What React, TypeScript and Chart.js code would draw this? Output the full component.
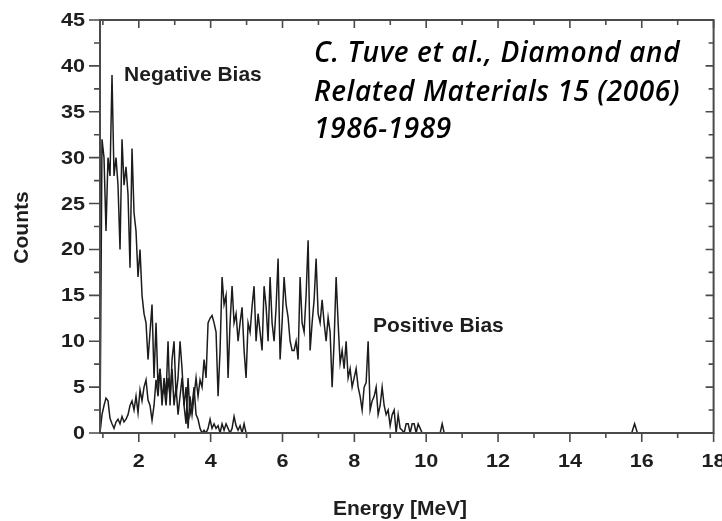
import { useEffect, useRef } from "react";
import { Chart, registerables } from "chart.js";

Chart.register(...registerables);

// Histogram binning (MeV)
const BIN_START = 0.92;
const BIN_WIDTH = 0.0557;

// Counts per bin, negative bias
const negativeBiasCounts = [
  0, 32, 30, 22, 30, 28, 39, 28, 30, 27,
  20, 32, 27, 29, 26, 18, 31, 24, 22, 17,
  20, 15, 13, 12, 8, 11, 14, 6, 12, 5,
  7, 3, 6, 4, 10, 3, 8, 10, 4, 6,
  10, 7, 3, 1, 6, 2, 3, 5, 2, 1.5,
  0.5, 0, 0.3, 0, 0.5, 1.5, 0.5, 1, 0.5, 0.8,
  0, 1, 0.3, 1, 0.5, 0, 0.5, 1.8, 0.8, 0.3,
  0.8, 0, 1, 0,
];

// Counts per bin, positive bias
const positiveBiasCounts = [
  0, 2, 3, 3.8, 3.5, 1.6, 1, 0.5, 1.2, 1.5,
  1, 1.8, 1.2, 1.5, 2, 3, 3.5, 2.5, 4, 2.2,
  4.7, 3.5, 5, 5.8, 3.6, 3, 1.4, 3, 5.8, 4,
  7, 4, 5, 3, 6, 4, 7, 3, 5, 2,
  4, 6, 3, 5, 0.5, 4, 2, 4, 6, 4,
  5.8, 5, 8, 6, 12, 12.5, 12.8, 12, 11, 4,
  9, 17, 14, 15, 6, 12, 16, 12, 13, 10,
  12, 13.7, 9, 6, 12, 11, 13.8, 16, 10, 13,
  11, 9, 16, 13.8, 10, 17, 12, 10, 13.7, 19,
  8, 12, 17, 14, 12.6, 10, 9, 9, 10, 8,
  17, 12, 11, 15, 21, 9, 12, 14.5, 19, 13,
  12, 14.5, 12, 10, 12.6, 11, 5, 10, 17, 12,
  7.6, 9, 7, 10, 6, 7, 5, 6, 7, 5,
  4, 2.5, 5, 5.5, 10, 2.5, 3.5, 4, 5, 2,
  3, 5, 3, 2, 2.5, 0.8, 2, 2.5, 0, 2,
  0.5, 0.3, 0, 1, 1, 0, 1, 1, 0, 1,
  0.5, 0, 0, 0, 0, 0, 0, 0, 0, 0,
  0, 1, 0,
];

// Isolated high-energy event, positive bias
const positiveTailEnergy = [15.72, 15.8, 15.88];
const positiveTailCounts = [0, 1, 0];

const xTickValues = [2, 4, 6, 8, 10, 12, 14, 16, 18];
const xMinorValues = [1, 3, 5, 7, 9, 11, 13, 15, 17];
const yTickValues = [0, 5, 10, 15, 20, 25, 30, 35, 40, 45];
const yMinorValues = [2.5, 7.5, 12.5, 17.5, 22.5, 27.5, 32.5, 37.5, 42.5];

const xTitle = "Energy [MeV]";
const yTitle = "Counts";
const negativeLabel = "Negative Bias";
const positiveLabel = "Positive Bias";
const citationLines = [
  "C. Tuve et al., Diamond and",
  "Related Materials 15 (2006)",
  "1986-1989",
];

const AXIS_COLOR = "#4a4a4a";
const TEXT_COLOR = "#1e1e1e";
const TRACE_COLOR = "#1c1c1c";
const SANS = '"Liberation Sans", Arial, sans-serif';

const binned = (counts: number[]) =>
  counts.map((c, i) => ({ x: BIN_START + i * BIN_WIDTH, y: c }));

const framePlugin = {
  id: "frame",
  afterDatasetsDraw(chart: any) {
    const { ctx, chartArea: a, scales } = chart;
    const xs = scales.x;
    const ys = scales.y;
    ctx.save();

    // Box
    ctx.strokeStyle = AXIS_COLOR;
    ctx.lineWidth = 2;
    ctx.strokeRect(a.left, a.top, a.right - a.left, a.bottom - a.top);

    // Tick marks: outward on bottom/left, inward on top/right
    ctx.lineWidth = 1.6;
    ctx.beginPath();
    for (const v of xTickValues) {
      const px = xs.getPixelForValue(v);
      ctx.moveTo(px, a.bottom);
      ctx.lineTo(px, a.bottom + 9);
      ctx.moveTo(px, a.top);
      ctx.lineTo(px, a.top + 8);
    }
    for (const v of xMinorValues) {
      const px = xs.getPixelForValue(v);
      ctx.moveTo(px, a.bottom);
      ctx.lineTo(px, a.bottom + 5);
      ctx.moveTo(px, a.top);
      ctx.lineTo(px, a.top + 5);
    }
    for (const v of yTickValues) {
      const py = ys.getPixelForValue(v);
      ctx.moveTo(a.left - 11, py);
      ctx.lineTo(a.left, py);
      ctx.moveTo(a.right, py);
      ctx.lineTo(a.right - 8, py);
    }
    for (const v of yMinorValues) {
      const py = ys.getPixelForValue(v);
      ctx.moveTo(a.left - 6, py);
      ctx.lineTo(a.left, py);
      ctx.moveTo(a.right, py);
      ctx.lineTo(a.right - 5, py);
    }
    ctx.stroke();

    // Tick labels (slightly widened bold sans)
    const stretch = 1.2;
    ctx.fillStyle = TEXT_COLOR;
    ctx.font = `bold 18px ${SANS}`;
    ctx.textBaseline = "middle";
    for (const v of yTickValues) {
      const py = ys.getPixelForValue(v);
      ctx.save();
      ctx.translate(a.left - 15, py + 1);
      ctx.scale(stretch, 1);
      ctx.textAlign = "right";
      ctx.fillText(String(v), 0, 0);
      ctx.restore();
    }
    for (const v of xTickValues) {
      const px = xs.getPixelForValue(v);
      ctx.save();
      ctx.translate(px, a.bottom + 29);
      ctx.scale(stretch, 1);
      ctx.textAlign = "center";
      ctx.fillText(String(v), 0, 0);
      ctx.restore();
    }

    // Axis titles
    ctx.font = `bold 21px ${SANS}`;
    ctx.textAlign = "center";
    ctx.textBaseline = "middle";
    ctx.fillText(xTitle, 400, a.bottom + 76);
    ctx.save();
    ctx.translate(22, (a.top + a.bottom) / 2 + 1);
    ctx.rotate(-Math.PI / 2);
    ctx.fillText(yTitle, 0, 0);
    ctx.restore();

    // Series labels
    ctx.textAlign = "left";
    ctx.textBaseline = "alphabetic";
    ctx.font = `bold 21px ${SANS}`;
    ctx.fillText(negativeLabel, xs.getPixelForValue(1.59), ys.getPixelForValue(38.4));
    ctx.fillText(positiveLabel, xs.getPixelForValue(8.52), ys.getPixelForValue(11.0));

    // Reference note
    ctx.fillStyle = "#000";
    ctx.font = `italic 600 28px "Open Sans", Lato, sans-serif`;
    if ("letterSpacing" in ctx) (ctx as any).letterSpacing = "0.6px";
    const noteX = xs.getPixelForValue(6.88);
    const noteY = [40.4, 36.2, 32.1];
    citationLines.forEach((line, i) => {
      ctx.fillText(line, noteX, ys.getPixelForValue(noteY[i]));
    });

    ctx.restore();
  },
};

export default function App() {
  const canvasRef = useRef<HTMLCanvasElement | null>(null);

  useEffect(() => {
    const canvas = canvasRef.current;
    if (!canvas) return;
    const tailPoints = positiveTailEnergy.map((e, i) => ({ x: e, y: positiveTailCounts[i] }));
    const chart = new Chart(canvas, {
      type: "line",
      data: {
        datasets: [
          {
            label: negativeLabel,
            data: binned(negativeBiasCounts),
            borderColor: TRACE_COLOR,
            borderWidth: 1.5,
            pointRadius: 0,
            tension: 0,
            fill: false,
          },
          {
            label: positiveLabel,
            data: [...binned(positiveBiasCounts), ...tailPoints],
            borderColor: TRACE_COLOR,
            borderWidth: 1.5,
            pointRadius: 0,
            tension: 0,
            fill: false,
          },
        ],
      },
      options: {
        animation: false,
        responsive: false,
        maintainAspectRatio: false,
        events: [],
        layout: { padding: { left: 100, right: 8.4, top: 20, bottom: 88 } },
        plugins: {
          legend: { display: false },
          tooltip: { enabled: false },
          title: { display: false },
        },
        scales: {
          x: { type: "linear", min: 0.92, max: 18, display: false },
          y: { type: "linear", min: 0, max: 45, display: false },
        },
      },
      plugins: [framePlugin],
    });
    return () => chart.destroy();
  }, []);

  return (
    <div
      style={{
        position: "absolute",
        left: 0,
        top: 0,
        width: 722,
        height: 521,
        background: "#fff",
      }}
    >
      <canvas ref={canvasRef} width={722} height={521} style={{ display: "block" }} />
    </div>
  );
}
